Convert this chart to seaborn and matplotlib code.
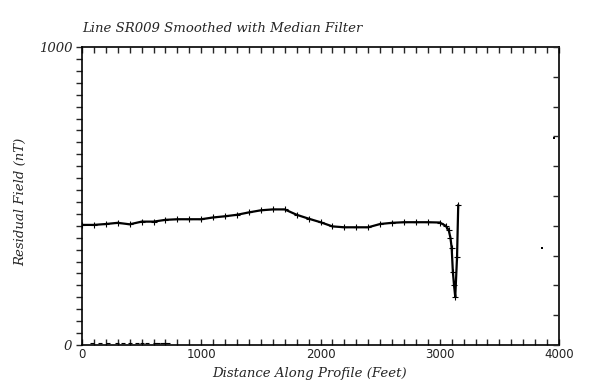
import numpy as np
import pandas as pd
import matplotlib
matplotlib.use("Agg")
import matplotlib.pyplot as plt
from matplotlib.ticker import MultipleLocator
import seaborn as sns

# profile values
distance_ft = [0, 100, 200, 300, 400, 500, 600, 700, 800, 900, 1000, 1100,
               1200, 1300, 1400, 1500, 1600, 1700, 1800, 1900, 2000, 2100,
               2200, 2300, 2400, 2500, 2600, 2700, 2800, 2900, 3000, 3050,
               3075, 3090, 3100, 3110, 3120, 3130, 3145, 3155]
residual_nt = [403, 403, 406, 410, 405, 414, 414, 420, 422, 422, 422, 428,
               432, 437, 445, 452, 455, 455, 437, 424, 412, 398,
               395, 395, 395, 406, 410, 412, 412, 412, 411, 400,
               386, 359, 326, 245, 200, 161, 295, 470]

# stray points outside the profile
stray_ft = [3860, 3960]
stray_nt = [324, 696]

# faint dashes near zero at the start of the line
base_ft = [84, 151, 218, 294, 344, 402, 461, 503, 545, 612, 640, 668, 696, 721]
base_nt = [8, 8, 8, 8, 8, 8, 8, 8, 8, 8, 8, 8, 8, 8]

x_major = [0, 1000, 2000, 3000, 4000]
y_major = [0, 1000]

df = pd.DataFrame({"dist": distance_ft, "field": residual_nt})

sns.set_style("ticks")
plt.rcParams["font.family"] = ["DejaVu Serif"]

fig = plt.figure(figsize=(6, 3.89), dpi=100)
ax = fig.add_axes([82 / 600, 1 - 345 / 389, 477 / 600, 298 / 389])

sns.lineplot(data=df, x="dist", y="field", ax=ax, color="black", lw=1.6,
             marker="+", markersize=4, markeredgewidth=0.8,
             markeredgecolor="black", sort=False)
sns.scatterplot(x=stray_ft, y=stray_nt, ax=ax, color="black", s=3, marker="s",
                linewidth=0)
sns.scatterplot(x=base_ft, y=base_nt, ax=ax, color="black", s=6, marker="_",
                linewidth=0.8)

ax.set_xlim(0, 4000)
ax.set_ylim(0, 1000)
for s in ax.spines.values():
    s.set_linewidth(1.2)
    s.set_color("black")

ax.set_xticks(x_major)
ax.set_xticklabels([str(v) for v in x_major], family="DejaVu Sans",
                   fontsize=8.5, color="#222222")
ax.xaxis.set_minor_locator(MultipleLocator(100))
ax.tick_params(axis="x", which="both", direction="in", top=True, bottom=True,
               length=4, width=1, pad=2)

ax.set_yticks(y_major)
ax.set_yticklabels([str(v) for v in y_major], style="italic", fontsize=9.5)
ax.yaxis.set_minor_locator(MultipleLocator(40))
ax.tick_params(axis="y", which="both", direction="out", left=True, right=False,
               length=4, width=1, pad=3)

# right side ticks point inward every 100 nT
ax2 = ax.twinx()
ax2.set_ylim(0, 1000)
ax2.yaxis.set_major_locator(MultipleLocator(100))
ax2.tick_params(axis="y", direction="in", length=4, width=1, labelright=False)
for s in ax2.spines.values():
    s.set_visible(False)

ax.set_xlabel("Distance Along Profile (Feet)", style="italic", fontsize=9.5)
ax.set_ylabel("Residual Field (nT)", style="italic", fontsize=9.5)
ax.xaxis.set_label_coords(0.476, -0.074)
ax.yaxis.set_label_coords(-0.115, 0.48)

fig.text(82 / 600, 1 - 29 / 389, "Line SR009 Smoothed with Median Filter",
         style="italic", fontsize=9.5, ha="left", va="center")

fig.savefig("out.png", dpi=100)
